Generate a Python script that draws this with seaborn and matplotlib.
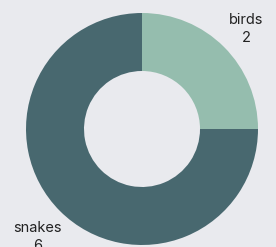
import matplotlib
matplotlib.use("Agg")
import matplotlib.pyplot as plt
import seaborn as sns

# data
animals = ["birds", "snakes"]
counts = [2, 6]
colors = ["#95bdae", "#48686f"]

BG = "#e9eaee"

sns.set_theme(style="white")
plt.rcParams["font.family"] = ["Inter", "DejaVu Sans"]

fig = plt.figure(figsize=(2.76, 2.47), dpi=100, facecolor=BG)
ax = fig.add_axes([0, 0, 1, 1])
ax.set_facecolor(BG)

labels = [f"{a}\n{c}" for a, c in zip(animals, counts)]
wedges, texts = ax.pie(
    counts,
    labels=labels,
    colors=colors,
    startangle=90,
    counterclock=False,
    radius=1.0,
    labeldistance=1.27,
    wedgeprops=dict(width=0.5, linewidth=0),
    textprops=dict(fontsize=10.5, color="#222222", ha="center", va="center",
                   linespacing=1.35),
)

# labels sit a touch lower in the reference
for t in texts:
    x, y = t.get_position()
    t.set_position((x, y - 0.035))

# place the pie like the reference: center at (142,129) px, radius 116 px
R = 116.0
ax.set_xlim(-142 / R, (276 - 142) / R)
ax.set_ylim(-(247 - 129) / R, 129 / R)
ax.set_aspect("auto")
ax.axis("off")

fig.savefig("out.png", dpi=100, facecolor=BG)
